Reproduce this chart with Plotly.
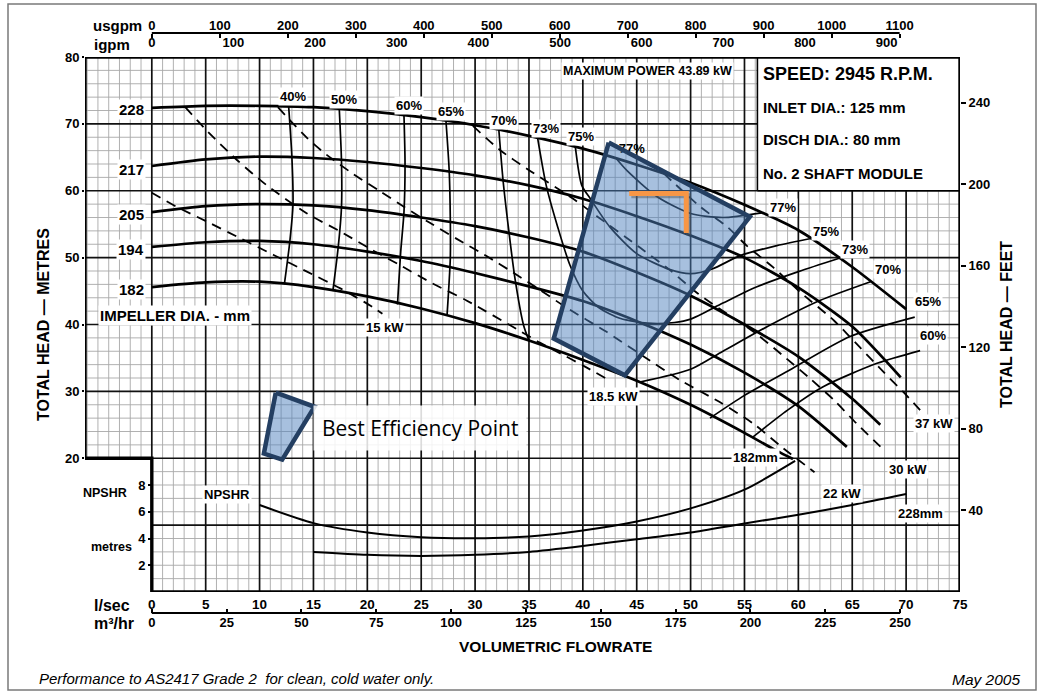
import plotly.graph_objects as go

FONT = "Liberation Sans, Arial, Helvetica, sans-serif"

# ---------------- axis tick values ----------------
lps_ticks = list(range(0, 80, 5))
m3h_ticks = list(range(0, 275, 25))
usgpm_ticks = list(range(0, 1200, 100))
igpm_ticks = list(range(0, 1000, 100))
head_ticks = [20, 30, 40, 50, 60, 70, 80]
feet_ticks = [40, 80, 120, 160, 200, 240]
npshr_ticks = [2, 4, 6, 8]

USGPM_PER_LPS = 15.8503
IGPM_PER_LPS = 13.1982
M3H_PER_LPS = 3.6
FT_PER_M = 3.28084

# ---------------- head curves (Q l/s, H m) ----------------
impeller_mm = ["228", "217", "205", "194", "182"]
q_228 = [0, 5, 10, 15, 20, 25, 30, 35, 40, 45, 50, 55, 60, 65, 70]
h_228 = [72.4, 72.7, 72.7, 72.5, 71.9, 71.0, 69.8, 68.2, 66.3, 63.9, 61.2, 57.9, 54.1, 48.6, 42.3]
q_217 = [0, 5, 10, 15, 20, 25, 30, 35, 40, 45, 50, 55, 60, 65, 69.5]
h_217 = [63.7, 64.7, 65.1, 64.9, 64.3, 63.4, 62.3, 60.8, 58.8, 56.2, 53.3, 50.0, 45.5, 39.7, 32.1]
q_205 = [0, 5, 10, 15, 20, 25, 30, 35, 40, 45, 50, 55, 60, 65, 67.6]
h_205 = [56.8, 57.7, 58.0, 57.8, 57.1, 56.0, 54.7, 53.0, 50.9, 47.8, 44.3, 40.0, 35.2, 28.9, 25.0]
q_194 = [0, 5, 10, 15, 20, 25, 30, 35, 40, 45, 50, 55, 60, 64.5]
h_194 = [51.6, 52.3, 52.5, 52.0, 50.9, 49.5, 47.7, 45.7, 43.5, 40.5, 37.0, 32.8, 27.8, 21.7]
q_182 = [0, 5, 10, 15, 20, 25, 30, 35, 40, 45, 50, 55, 58, 59.5]
h_182 = [45.6, 46.3, 46.4, 45.6, 44.2, 42.4, 40.2, 37.6, 34.7, 31.6, 28.0, 23.8, 21.1, 19.9]

# ---------------- NPSHR curves (Q l/s, NPSHR m) ----------------
q_npshr_182 = [10, 15, 20, 25, 30, 35, 40, 45, 50, 55, 59.7]
npshr_182 = [6.5, 5.15, 4.45, 4.1, 4.02, 4.15, 4.6, 5.27, 6.25, 7.65, 9.8]
q_npshr_228 = [15, 20, 25, 30, 35, 40, 45, 50, 55, 60, 65, 70]
npshr_228 = [3.0, 2.78, 2.7, 2.78, 3.0, 3.44, 3.95, 4.45, 5.13, 5.77, 6.5, 7.32]

# ---------------- efficiency contours ----------------
q_eff40 = [12.7, 13.0, 13.1, 12.8, 12.3]
h_eff40 = [72.6, 65.0, 57.9, 52.3, 46.0]
q_eff50 = [17.4, 17.6, 17.6, 17.3, 16.8]
h_eff50 = [72.1, 64.5, 57.5, 51.6, 45.0]
q_eff60 = [23.4, 23.5, 23.4, 23.1, 22.8]
h_eff60 = [71.3, 63.9, 56.8, 50.9, 43.0]
q_eff65 = [27.3, 27.6, 27.7, 27.7, 27.4]
h_eff65 = [70.4, 62.9, 55.8, 49.9, 41.4]
q_eff70 = [32.2, 32.6, 33.1, 33.7, 34.5, 35.0]
h_eff70 = [69.2, 61.5, 54.4, 46.9, 39.9, 37.6]
q_eff73 = [35.8, 36.6, 37.7, 38.8, 40.0, 41.5, 43.5, 46.0, 48.5, 50.0, 53.0, 56.1, 60.0, 63.8]
h_eff73 = [67.9, 60.8, 54.4, 48.9, 45.0, 42.5, 40.9, 40.2, 40.3, 40.8, 43.2, 45.6, 47.9, 49.9]
q_eff75 = [39.3, 39.9, 40.7, 42.5, 45.0, 48.1, 50.0, 52.0, 54.6, 58.0, 61.3]
h_eff75 = [66.6, 60.8, 58.8, 54.6, 50.6, 48.2, 47.6, 48.3, 50.3, 51.8, 52.9]
q_eff77 = [43.0, 44.1, 46.9, 50.0, 53.0, 56.6]
h_eff77 = [65.0, 63.0, 59.1, 56.6, 56.0, 56.7]
q_eff70r = [45.3, 50.0, 53.0, 57.7, 62.0, 66.7]
h_eff70r = [31.4, 33.3, 36.0, 40.2, 43.6, 46.4]
q_eff65r = [51.8, 55.0, 59.2, 64.8, 70.8]
h_eff65r = [26.0, 29.4, 33.2, 38.2, 41.1]
q_eff60r = [55.8, 59.0, 62.3, 67.3, 71.3]
h_eff60r = [23.2, 27.2, 30.7, 34.2, 36.1]

# ---------------- power lines (dashed) ----------------
q_15kw = [0, 2.3, 5.1, 8.2, 11.3, 14.4, 17.5, 20.5, 21.4]
h_15kw = [59.7, 57.6, 55.4, 52.9, 50.4, 47.9, 45.4, 42.6, 41.6]
q_18kw = [3.1, 5.1, 7.9, 10.6, 14.4, 17.5, 20.5, 23.0, 26.1, 29.2, 34.2, 36.0, 38.0, 40.2, 42.3]
h_18kw = [72.5, 69.0, 64.6, 60.9, 56.6, 53.9, 51.1, 48.9, 46.1, 43.6, 39.0, 37.3, 35.6, 33.7, 31.8]
q_22kw = [11.7, 14.4, 16.2, 18.7, 21.2, 23.5, 25.8, 28.3, 31.1, 33.5, 36.0, 38.5, 42.2, 45.3, 49.0, 52.7, 55.8, 58.6, 61.5]
h_22kw = [72.5, 67.9, 65.4, 62.5, 59.9, 57.5, 55.2, 52.8, 50.2, 47.8, 45.2, 42.5, 38.9, 35.6, 31.7, 28.4, 25.2, 21.5, 17.9]
q_30kw = [29.8, 32.3, 34.8, 39.1, 41.3, 45.3, 48.1, 50.7, 56.1, 58.9, 61.1, 63.3, 65.4, 67.9]
h_30kw = [69.7, 66.1, 63.3, 58.8, 56.2, 51.5, 48.1, 44.6, 38.6, 34.9, 31.9, 28.7, 25.2, 21.3]
q_37kw = [47.5, 50.9, 53.4, 55.2, 57.7, 60.2, 63.3, 65.7, 67.9, 69.8, 71.3]
h_37kw = [62.6, 57.6, 54.6, 51.8, 48.5, 44.8, 40.6, 36.6, 32.9, 29.8, 27.2]

# ---------------- highlight overlays ----------------
bep_zone_q = [42.4, 55.5, 43.9, 37.3]
bep_zone_h = [67.2, 56.1, 32.4, 37.9]
bep_icon_q = [11.5, 15.1, 12.1, 10.4]
bep_icon_h = [29.8, 27.7, 19.8, 20.7]
duty_q = [44.3, 49.6, 49.6]
duty_h = [59.6, 59.6, 53.7]

# ---------------- geometry ----------------
W, H = 1040, 693
PX_L, PX_R, PX_T, PX_B = 85, 960, 57, 592
Q_MIN, Q_MAX = -6.2, 75.0
H_MIN, H_MAX = 0.0, 80.0
XD = [PX_L / W, PX_R / W]
YD = [1 - PX_B / H, 1 - PX_T / H]


def py(p):
    return 1 - p / H


fig = go.Figure()


def add_lines(xs, ys, color, width, dash=None, shape="linear", yaxis="y"):
    fig.add_trace(go.Scatter(x=xs, y=ys, mode="lines", yaxis=yaxis,
                             line=dict(color=color, width=width, dash=dash, shape=shape,
                                       smoothing=0.7 if shape == "spline" else None),
                             hoverinfo="skip", showlegend=False))


# ---------------- grid ----------------
def seg_trace(segs, color, width):
    xs, ys = [], []
    for xa, ya, xb, yb in segs:
        xs += [xa, xb, None]
        ys += [ya, yb, None]
    add_lines(xs, ys, color, width)


minor_v = [(q, 20 if q < 0 else 0, q, 80) for q in range(-6, 75) if not (q >= 0 and q % 5 == 0)]
minor_h = [(Q_MIN if h > 20 else 0, h, Q_MAX, h) for h in range(2, 80, 2) if h % 10]
major_v = [(q, 0, q, 80) for q in range(0, 75, 5)]
major_h = [(Q_MIN if h >= 20 else 0, h, Q_MAX, h) for h in range(10, 80, 10)]
seg_trace(minor_v, "#a8a8a8", 0.9)
seg_trace(minor_h, "#a8a8a8", 0.9)
seg_trace(major_v, "#111111", 1.7)
seg_trace(major_h, "#111111", 1.7)

# info box cover
fig.add_trace(go.Scatter(x=[56.2, Q_MAX, Q_MAX, 56.2, 56.2], y=[60, 60, 80, 80, 60], mode="lines",
                         fill="toself", fillcolor="white", line=dict(color="black", width=1.6),
                         hoverinfo="skip", showlegend=False))
# frame
add_lines([Q_MIN, Q_MAX, Q_MAX, 0, 0, Q_MIN, Q_MIN], [80, 80, 0, 0, 20, 20, 80], "black", 3.4)

# ---------------- curves ----------------
for q, h in [(q_228, h_228), (q_217, h_217), (q_205, h_205), (q_194, h_194), (q_182, h_182)]:
    add_lines(q, h, "black", 2.7, shape="spline")

for q, h in [(q_eff40, h_eff40), (q_eff50, h_eff50), (q_eff60, h_eff60), (q_eff65, h_eff65),
             (q_eff70, h_eff70), (q_eff73, h_eff73), (q_eff75, h_eff75), (q_eff77, h_eff77),
             (q_eff70r, h_eff70r), (q_eff65r, h_eff65r), (q_eff60r, h_eff60r)]:
    add_lines(q, h, "black", 1.7, shape="spline")

for q, h in [(q_15kw, h_15kw), (q_18kw, h_18kw), (q_22kw, h_22kw), (q_30kw, h_30kw), (q_37kw, h_37kw)]:
    add_lines(q, h, "black", 1.8, dash="10px,7px", shape="spline")

add_lines(q_npshr_182, npshr_182, "black", 2.0, shape="spline", yaxis="y2")
add_lines(q_npshr_228, npshr_228, "black", 2.0, shape="spline", yaxis="y2")

# label that sits under the translucent zone
fig.add_trace(go.Scatter(x=[44.55], y=[66.1], mode="text", text=["77%"],
                         textfont=dict(family=FONT, size=13, color="black", weight="bold"),
                         hoverinfo="skip", showlegend=False))

# ---------------- overlays ----------------
for q, h in [(bep_zone_q, bep_zone_h), (bep_icon_q, bep_icon_h)]:
    fig.add_trace(go.Scatter(x=q + q[:1], y=h + h[:1], mode="lines", fill="toself",
                             fillcolor="rgba(79,129,189,0.5)",
                             line=dict(color="rgb(36,63,98)", width=4.5),
                             hoverinfo="skip", showlegend=False))
add_lines([v + 0.2 for v in duty_q], [v - 0.35 for v in duty_h], "rgba(80,80,80,0.45)", 5)
add_lines(duty_q, duty_h, "#F79646", 5)

# dummy traces so that secondary axes exist
for xa in ["x2", "x3", "x4"]:
    fig.add_trace(go.Scatter(x=[0], y=[0], xaxis=xa, yaxis="y", mode="markers",
                             marker=dict(opacity=0), hoverinfo="skip", showlegend=False))
fig.add_trace(go.Scatter(x=[0], y=[0], xaxis="x", yaxis="y3", mode="markers",
                         marker=dict(opacity=0), hoverinfo="skip", showlegend=False))

# ---------------- annotations ----------------
anns = []


def ann(text, x, y, size=13, xref="x", yref="y", bg=None, xanchor="center", yanchor="middle",
        weight="bold", style="normal", angle=0, family=FONT, pad=1):
    anns.append(dict(text=text, x=x, y=y, xref=xref, yref=yref, showarrow=False,
                     xanchor=xanchor, yanchor=yanchor, textangle=angle,
                     bgcolor=bg, borderpad=pad,
                     font=dict(family=family, size=size, color="black", weight=weight, style=style)))


# impeller labels
for lab, hy in zip(impeller_mm, [72.2, 63.25, 56.5, 51.25, 45.25]):
    ann(lab, -1.9, hy, size=15, bg="white")
ann("IMPELLER DIA. - mm", 2.13, 41.3, size=15, bg="white")

# efficiency labels
eff_top = [("40%", 13.1, 74.1), ("50%", 17.8, 73.6), ("60%", 23.85, 72.7), ("65%", 27.8, 71.8),
           ("70%", 32.7, 70.5), ("73%", 36.55, 69.35), ("75%", 39.8, 68.1),
           ("77%", 58.55, 57.5), ("75%", 62.55, 53.9), ("73%", 65.25, 51.25), ("70%", 68.3, 48.25),
           ("65%", 72.05, 43.4), ("60%", 72.5, 38.3)]
for t, x, y in eff_top:
    ann(t, x, y, size=13, bg="white")

# power labels
for t, x, y in [("15 kW", 21.6, 39.6), ("18.5 kW", 42.8, 29.25), ("22 kW", 64.05, 14.8),
                ("30 kW", 70.2, 18.25), ("37 kW", 72.6, 25.25)]:
    ann(t, x, y, size=13, bg="white")

ann("182mm", 56.05, 20.05, size=13, bg="white")
ann("228mm", 71.35, 11.8, size=13, bg="white")
ann("NPSHR", 6.95, 14.65, size=13, bg="white")
ann("MAXIMUM POWER 43.89 kW", 46.0, 77.9, size=12.5, bg="white")

# info box text
ann("SPEED: 2945 R.P.M.", 761 / W, py(74), size=18, xref="paper", yref="paper", xanchor="left")
ann("INLET DIA.: 125 mm", 761 / W, py(107), size=15, xref="paper", yref="paper", xanchor="left")
ann("DISCH DIA.: 80 mm", 761 / W, py(140), size=15, xref="paper", yref="paper", xanchor="left")
ann("No. 2 SHAFT MODULE", 761 / W, py(173), size=15, xref="paper", yref="paper", xanchor="left")

# Best efficiency point callout
ann("Best Efficiency Point", 14.94, 24.5, size=21, xanchor="left", bg="rgba(255,255,255,0.85)",
    weight="normal", family="Open Sans, Lato, sans-serif", pad=8)

# axis titles and unit labels
ann("TOTAL HEAD \u2014 METRES", 43 / W, py(325), size=16, xref="paper", yref="paper", angle=-90)
ann("TOTAL HEAD \u2014 FEET", 1006 / W, py(325), size=16, xref="paper", yref="paper", angle=-90)
ann("VOLUMETRIC FLOWRATE", 555 / W, py(646), size=15.5, xref="paper", yref="paper")
ann("usgpm", 117 / W, py(26), size=15, xref="paper", yref="paper")
ann("igpm", 112 / W, py(44), size=15, xref="paper", yref="paper")
ann("l/sec", 112 / W, py(605), size=16, xref="paper", yref="paper")
ann("m\u00b3/hr", 114 / W, py(623), size=16, xref="paper", yref="paper")
ann("NPSHR", 105 / W, py(493), size=12.5, xref="paper", yref="paper")
ann("metres", 111 / W, py(547), size=12.5, xref="paper", yref="paper")
ann("Performance to AS2417 Grade 2  for clean, cold water only.", 37 / W, py(678), size=15,
    xref="paper", yref="paper", xanchor="left", weight="normal", style="italic")
ann("May 2005", 1022 / W, py(679), size=15.5, xref="paper", yref="paper", xanchor="right",
    weight="normal", style="italic")

shapes = [
    dict(type="rect", xref="paper", yref="paper", x0=8 / W, x1=1036 / W, y0=py(690), y1=py(4),
         line=dict(color="#7a7a7a", width=1.5)),
    dict(type="line", xref="x", yref="paper", x0=0, x1=usgpm_ticks[-1] / USGPM_PER_LPS,
         y0=py(33), y1=py(33), line=dict(color="black", width=1.8)),
    dict(type="line", xref="x", yref="paper", x0=0, x1=m3h_ticks[-1] / M3H_PER_LPS,
         y0=py(613), y1=py(613), line=dict(color="black", width=1.8)),
]

tickfont = dict(family=FONT, size=13, color="black", weight="bold")
common = dict(showgrid=False, zeroline=False, showline=False, fixedrange=True, automargin=False)

fig.update_layout(
    width=W, height=H, margin=dict(l=0, r=0, t=0, b=0, autoexpand=False),
    paper_bgcolor="white", plot_bgcolor="white", showlegend=False,
    font=dict(family=FONT, color="black"),
    annotations=anns, shapes=shapes,
    xaxis=dict(domain=XD, range=[Q_MIN, Q_MAX], tickmode="array", tickvals=lps_ticks,
               ticks="", tickfont=dict(family=FONT, size=13.5, color="black", weight="bold"),
               ticklabelstandoff=2, **common),
    xaxis2=dict(overlaying="x", anchor="free", position=py(33), side="top",
                range=[Q_MIN * USGPM_PER_LPS, Q_MAX * USGPM_PER_LPS], tickmode="array",
                tickvals=usgpm_ticks, ticks="inside", ticklen=4, tickwidth=1.5, tickcolor="black",
                tickfont=tickfont, **common),
    xaxis3=dict(overlaying="x", anchor="free", position=py(33), side="bottom",
                range=[Q_MIN * IGPM_PER_LPS, Q_MAX * IGPM_PER_LPS], tickmode="array",
                tickvals=igpm_ticks, ticks="", tickfont=tickfont, **common),
    xaxis4=dict(overlaying="x", anchor="free", position=py(613), side="bottom",
                range=[Q_MIN * M3H_PER_LPS, Q_MAX * M3H_PER_LPS], tickmode="array",
                tickvals=m3h_ticks, ticks="inside", ticklen=4, tickwidth=1.5, tickcolor="black",
                tickfont=tickfont, **common),
    yaxis=dict(domain=YD, range=[H_MIN, H_MAX], tickmode="array", tickvals=head_ticks,
               ticks="outside", ticklen=2, tickwidth=1.5, tickcolor="black", tickfont=tickfont, **common),
    yaxis2=dict(overlaying="y", anchor="free", position=152 / W, side="left",
                range=[H_MIN / 2, H_MAX / 2], tickmode="array", tickvals=npshr_ticks,
                ticks="outside", ticklen=4, tickwidth=1.5, tickcolor="black", tickfont=tickfont, **common),
    yaxis3=dict(overlaying="y", anchor="x", side="right",
                range=[H_MIN * FT_PER_M, H_MAX * FT_PER_M], tickmode="array", tickvals=feet_ticks,
                ticks="outside", ticklen=5, tickwidth=1.5, tickcolor="black", tickfont=tickfont, **common),
)

# remove the browser's default page margin so the 1040x693 figure fills the window exactly
fig.write_html("out.html", config={"displayModeBar": False},
               post_script="document.body.style.margin='0';")
